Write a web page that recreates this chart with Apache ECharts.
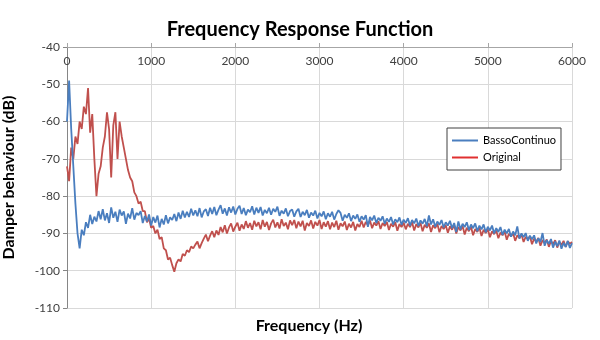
<!DOCTYPE html>
<html>
<head>
<meta charset="utf-8">
<script src="https://cdn.jsdelivr.net/npm/echarts@6/dist/echarts.min.js"></script>
<style>html,body{margin:0;padding:0;background:#fff}#c{width:600px;height:340px}</style>
</head>
<body>
<div id="c"></div>
<script>
var titleText = 'Frequency Response Function';
var xAxisTitle = 'Frequency (Hz)';
var yAxisTitle = 'Damper behaviour (dB)';
var seriesNames = ['BassoContinuo', 'Original'];

var freq = [
0,25,50,75,100,125,150,175,200,225,250,275,300,325,350,375,400,425,450,475,
500,525,550,575,600,625,650,675,700,725,750,775,800,825,850,875,900,925,950,975,
1000,1025,1050,1075,1100,1125,1150,1175,1200,1225,1250,1275,1300,1325,1350,1375,1400,1425,1450,1475,
1500,1525,1550,1575,1600,1625,1650,1675,1700,1725,1750,1775,1800,1825,1850,1875,1900,1925,1950,1975,
2000,2025,2050,2075,2100,2125,2150,2175,2200,2225,2250,2275,2300,2325,2350,2375,2400,2425,2450,2475,
2500,2525,2550,2575,2600,2625,2650,2675,2700,2725,2750,2775,2800,2825,2850,2875,2900,2925,2950,2975,
3000,3025,3050,3075,3100,3125,3150,3175,3200,3225,3250,3275,3300,3325,3350,3375,3400,3425,3450,3475,
3500,3525,3550,3575,3600,3625,3650,3675,3700,3725,3750,3775,3800,3825,3850,3875,3900,3925,3950,3975,
4000,4025,4050,4075,4100,4125,4150,4175,4200,4225,4250,4275,4300,4325,4350,4375,4400,4425,4450,4475,
4500,4525,4550,4575,4600,4625,4650,4675,4700,4725,4750,4775,4800,4825,4850,4875,4900,4925,4950,4975,
5000,5025,5050,5075,5100,5125,5150,5175,5200,5225,5250,5275,5300,5325,5350,5375,5400,5425,5450,5475,
5500,5525,5550,5575,5600,5625,5650,5675,5700,5725,5750,5775,5800,5825,5850,5875,5900,5925,5950,5975,
6000
];

var bassoContinuo = [
-60,-49,-62,-72,-82,-90,-94,-89,-90.5,-87,-88.5,-85,-87.5,-85.5,-86.8,-84,-86.2,-83.5,-86.5,-84.6,
-87.2,-83,-85.8,-84.2,-86.9,-83.6,-85.2,-84.1,-87.4,-84.7,-86,-83.2,-86.3,-84.5,-85.1,-84,-87.2,-85.3,-86.8,-84.9,
-87.9,-85.6,-87.1,-85.2,-88.4,-86.1,-87.6,-85.1,-87.3,-85.7,-86.4,-84.8,-86.7,-84.4,-86.1,-83.9,-85.7,-84.2,-85.6,-83.4,
-85.2,-83.8,-85.4,-83.2,-85.7,-84.1,-83.5,-85.3,-83.1,-84.8,-82.9,-85.1,-83.6,-82.4,-84.7,-83.3,-85.2,-83,-84.4,-82.8,
-84.9,-83.4,-82.6,-84.8,-83.2,-85.1,-83.6,-84.3,-82.7,-84.9,-83.1,-84.5,-82.9,-85.2,-83.7,-84.6,-83.1,-85,-83.4,-84.2,
-82.8,-85.3,-83.9,-84.7,-83.3,-85.4,-84,-83.6,-85.5,-84.1,-83.4,-85.6,-84.2,-85.1,-83.7,-85.8,-84.4,-85.2,-83.9,-86,
-84.5,-85.4,-84.1,-86.2,-84.6,-85.5,-84.2,-86.3,-84.8,-83.8,-84.5,-86.6,-85,-85.8,-84.6,-86.7,-85.2,-86.1,-84.9,-86.9,
-85.4,-86.3,-85.1,-88.2,-85.6,-86.5,-85.2,-87.2,-85.8,-86.6,-85.4,-87.4,-86,-86.9,-85.6,-87.6,-86.2,-87,-85.7,-87.7,
-86.3,-87.2,-85.9,-87.9,-86.4,-87.3,-86,-88,-86.5,-87.4,-86.1,-88.1,-85.2,-87.6,-86.2,-88.2,-86.8,-87.7,-86.4,-88.4,
-87,-87.9,-86.6,-88.6,-87.2,-89.6,-86.8,-88.9,-87.4,-88.3,-87,-89.1,-87.6,-88.6,-87.3,-89.4,-87.9,-88.9,-87.6,-89.7,
-88.2,-89.2,-87.9,-90,-88.6,-89.6,-88.3,-90.4,-89,-90,-88.8,-90.9,-89.5,-90.5,-88.1,-91.4,-90,-91,-89.9,-92,
-90.6,-91.6,-90.5,-92.7,-91.3,-92.3,-89.9,-93.3,-91.8,-92.8,-91.5,-93.8,-92.2,-93.4,-91.9,-94.1,-92.5,-93.6,-92,-93.9,
-92.6
];

var original = [
-72,-76,-67,-70,-64,-66,-60,-62,-56,-58,-51,-63,-58,-70,-80,-74,-72,-67,-64,-57.5,
-62,-75,-61,-57.5,-70,-60,-64,-67,-70,-73,-75,-76,-79,-80,-82,-81.5,-84,-84,-87,-86,
-88.5,-88,-90,-89,-91.5,-91,-94,-94.5,-97,-96.5,-98.5,-100.3,-98,-97,-97.5,-95.5,-96,-94.5,-95,-93.5,
-94,-93,-92.2,-94,-92.6,-91.4,-90.3,-92.1,-90.6,-89.4,-91,-89.2,-90.4,-88.3,-89.7,-87.8,-90,-88.4,-87.3,-89.5,
-88.2,-87.1,-89.3,-87.6,-88.8,-86.7,-88.5,-87.2,-89,-86.6,-88.1,-87,-88.9,-86.4,-88.2,-86.9,-89.1,-87.3,-86.3,-88.4,
-87,-88.7,-86.2,-88,-87.1,-88.9,-86.5,-87.8,-86.4,-88.6,-86.8,-88.1,-86.6,-89.2,-87.2,-88,-86.5,-88.7,-86.9,-87.9,
-86.4,-88.8,-87,-88.2,-86.7,-88.9,-87.1,-88.3,-86.6,-89,-87.3,-88.1,-86.8,-89.1,-87.4,-88.4,-86.9,-89.2,-87.5,-88.3,
-86.6,-88.4,-86.9,-87.8,-86.5,-88.6,-87.1,-87.9,-86.7,-88.8,-87.2,-88,-86.9,-89.1,-87.4,-88.2,-87,-89.3,-87.5,-88.3,
-87.1,-88.9,-87.4,-88.3,-87,-89.2,-87.5,-88.4,-87.2,-89.4,-87.7,-88.5,-87.3,-89.6,-87.8,-88.6,-87.4,-89.7,-88,-88.8,
-87.8,-89.8,-88.1,-89,-87.8,-90,-88.3,-89.2,-88,-90.3,-88.5,-89.4,-88.2,-90.5,-88.8,-89.6,-88.4,-90.7,-89,-89.9,
-88.9,-91,-89.4,-90.2,-89.2,-91.3,-89.8,-90.5,-89.5,-91.7,-90.1,-90.8,-89.9,-92,-90.5,-91.2,-90.3,-92.3,-90.9,-91.5,
-90.8,-92.9,-91.4,-92.2,-91.2,-93.3,-91.8,-92.6,-91.6,-93.6,-92,-92.9,-91.8,-93.8,-92.3,-93.1,-92,-93.6,-92.1,-92.8,
-92.3
];

var xTicks = {min: 0, max: 6000, interval: 1000};
var yTicks = {min: -110, max: -40, interval: 10};

function pairs(xs, ys) {
  var out = [];
  var n = Math.min(xs.length, ys.length);
  for (var i = 0; i < n; i++) out.push([xs[i], ys[i]]);
  return out;
}

var chart = echarts.init(document.getElementById('c'), null, {renderer: 'canvas'});
var FONT = 'Lato, "Open Sans", sans-serif';
chart.setOption({
  animation: false,
  backgroundColor: '#ffffff',
  title: {
    text: titleText, left: 'center', top: 15,
    textStyle: {fontFamily: FONT, fontWeight: 'bold', fontSize: 20, color: '#000'}
  },
  grid: {left: 67, right: 28, top: 47, bottom: 32, containLabel: false, outerBoundsMode: 'none'},
  legend: {
    data: seriesNames,
    orient: 'vertical',
    left: 447, top: 128,
    padding: [7, 5, 7, 5],
    itemGap: 6,
    itemWidth: 26, itemHeight: 2,
    icon: 'rect',
    borderColor: '#404040', borderWidth: 1,
    backgroundColor: '#fff',
    textStyle: {fontFamily: FONT, fontSize: 11, color: '#000'}
  },
  xAxis: {
    type: 'value', position: 'top',
    min: xTicks.min, max: xTicks.max, interval: xTicks.interval,
    axisLine: {show: true, lineStyle: {color: '#a6a6a6', width: 1}},
    axisTick: {show: true, inside: false, length: 4, lineStyle: {color: '#a6a6a6'}},
    axisLabel: {inside: true, margin: 8, fontFamily: FONT, fontSize: 12, color: '#404040',
      formatter: function (v) { return String(v); }},
    splitLine: {show: true, lineStyle: {color: '#d9d9d9', width: 1}}
  },
  yAxis: {
    type: 'value',
    min: yTicks.min, max: yTicks.max, interval: yTicks.interval,
    name: yAxisTitle, nameLocation: 'middle', nameGap: 50, nameRotate: 90,
    nameTextStyle: {fontFamily: FONT, fontWeight: 'bold', fontSize: 16, color: '#000'},
    axisLine: {show: true, lineStyle: {color: '#868686', width: 1}},
    axisTick: {show: true, length: 4, lineStyle: {color: '#868686'}},
    axisLabel: {margin: 7, fontFamily: FONT, fontSize: 12, color: '#404040',
      formatter: function (v) { return String(v); }},
    splitLine: {show: true, lineStyle: {color: '#d9d9d9', width: 1}}
  },
  graphic: [{
    type: 'text', x: 309, y: 326,
    style: {text: xAxisTitle, fontFamily: FONT, fontWeight: 'bold', fontSize: 16, fill: '#000',
      align: 'center', verticalAlign: 'middle'}
  }],
  series: [
    {
      name: seriesNames[1], type: 'line', data: pairs(freq, original),
      showSymbol: false, symbol: 'none', z: 2,
      lineStyle: {color: '#c0504d', width: 1.8}, itemStyle: {color: '#e03030'}
    },
    {
      name: seriesNames[0], type: 'line', data: pairs(freq, bassoContinuo),
      showSymbol: false, symbol: 'none', z: 3,
      lineStyle: {color: '#4a7ebf', width: 1.8}, itemStyle: {color: '#4a7ebf'}
    }
  ]
});
</script>
</body>
</html>
